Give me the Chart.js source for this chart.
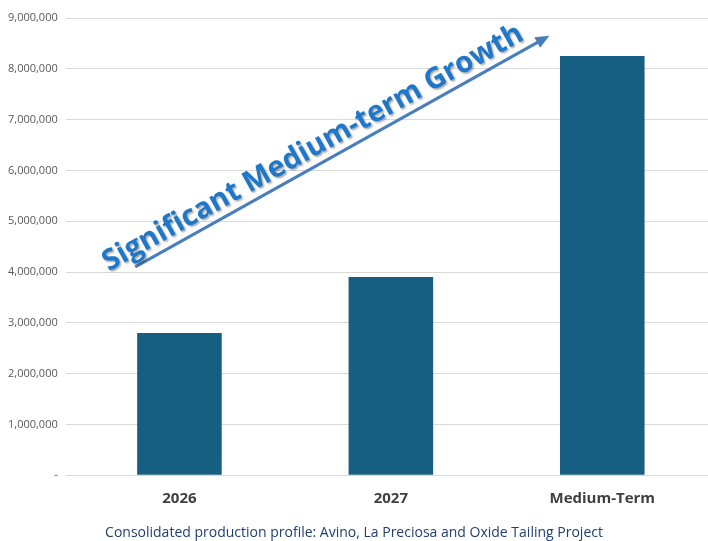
<!DOCTYPE html>
<html><head><meta charset="utf-8">
<script src="https://cdn.jsdelivr.net/npm/chart.js@4/dist/chart.umd.min.js"></script>
<style>html,body{margin:0;background:#fff}#w{width:708px;height:541px;position:relative}</style>
</head><body><div id="w"><canvas id="c"></canvas></div>
<script>
const categories = ["2026", "2027", "Medium-Term"];
const production = [2800000, 3900000, 8250000];
const yTicks = [0,1000000,2000000,3000000,4000000,5000000,6000000,7000000,8000000,9000000];
const caption = "Consolidated production profile: Avino, La Preciosa and Oxide Tailing Project";
const annotation = "Significant Medium-term Growth";

const overlay = {
  id: 'overlay',
  afterDraw(chart) {
    const ctx = chart.ctx, x = chart.scales.x, y = chart.scales.y;
    const x1 = x.left + (x.right - x.left) * 0.097, y1 = y.getPixelForValue(4100000);
    const x2 = x.left + (x.right - x.left) * 0.75, y2 = y.getPixelForValue(8650000);
    ctx.save();
    ctx.strokeStyle = '#4A7EBB'; ctx.fillStyle = '#4A7EBB'; ctx.lineWidth = 3;
    const a = Math.atan2(y2 - y1, x2 - x1);
    ctx.beginPath(); ctx.moveTo(x1, y1); ctx.lineTo(x2 - 8*Math.cos(a), y2 - 8*Math.sin(a)); ctx.stroke();
    ctx.beginPath();
    ctx.moveTo(x2, y2);
    ctx.lineTo(x2 - 14*Math.cos(a) + 6*Math.sin(a), y2 - 14*Math.sin(a) - 6*Math.cos(a));
    ctx.lineTo(x2 - 14*Math.cos(a) - 6*Math.sin(a), y2 - 14*Math.sin(a) + 6*Math.cos(a));
    ctx.closePath(); ctx.fill();
    ctx.translate(313, 148); ctx.rotate(a);
    ctx.font = 'bold 29px "Open Sans", sans-serif';
    ctx.textAlign = 'center'; ctx.textBaseline = 'middle';
    ctx.shadowColor = 'rgba(0,0,0,0.35)'; ctx.shadowOffsetX = 1.5; ctx.shadowOffsetY = 1.5; ctx.shadowBlur = 2;
    ctx.fillStyle = '#1E77C8';
    ctx.fillText(annotation, 0, 0);
    ctx.restore();
  }
};

new Chart(document.getElementById('c'), {
  type: 'bar',
  data: { labels: categories, datasets: [{ data: production, backgroundColor: '#175F82', barPercentage: 0.4, categoryPercentage: 1 }] },
  options: {
    responsive: true, maintainAspectRatio: false, animation: false,
    layout: { padding: { left: 0, right: 0, top: 18, bottom: 0 } },
    plugins: {
      legend: { display: false }, tooltip: { enabled: false },
      title: { display: true, position: 'bottom', text: caption, color: '#1F3F6E', font: { family: '"Open Sans", sans-serif', size: 14, weight: 'normal' }, padding: { top: 9, bottom: 0 } }
    },
    scales: {
      x: { grid: { display: false }, border: { color: '#d9d9d9' },
           ticks: { color: '#404040', font: { family: '"Open Sans", sans-serif', size: 15, weight: 'bold' }, padding: 7 } },
      y: { min: 0, max: 9000000, border: { display: false },
           grid: { color: '#d9d9d9' },
           afterBuildTicks(s) { s.ticks = yTicks.map(v => ({ value: v })); },
           ticks: { color: '#595959', font: { family: '"Open Sans", sans-serif', size: 11 }, padding: 8,
                    callback: v => v === 0 ? '-' : v.toLocaleString('en-US') } }
    }
  },
  plugins: [overlay]
});
</script></body></html>
